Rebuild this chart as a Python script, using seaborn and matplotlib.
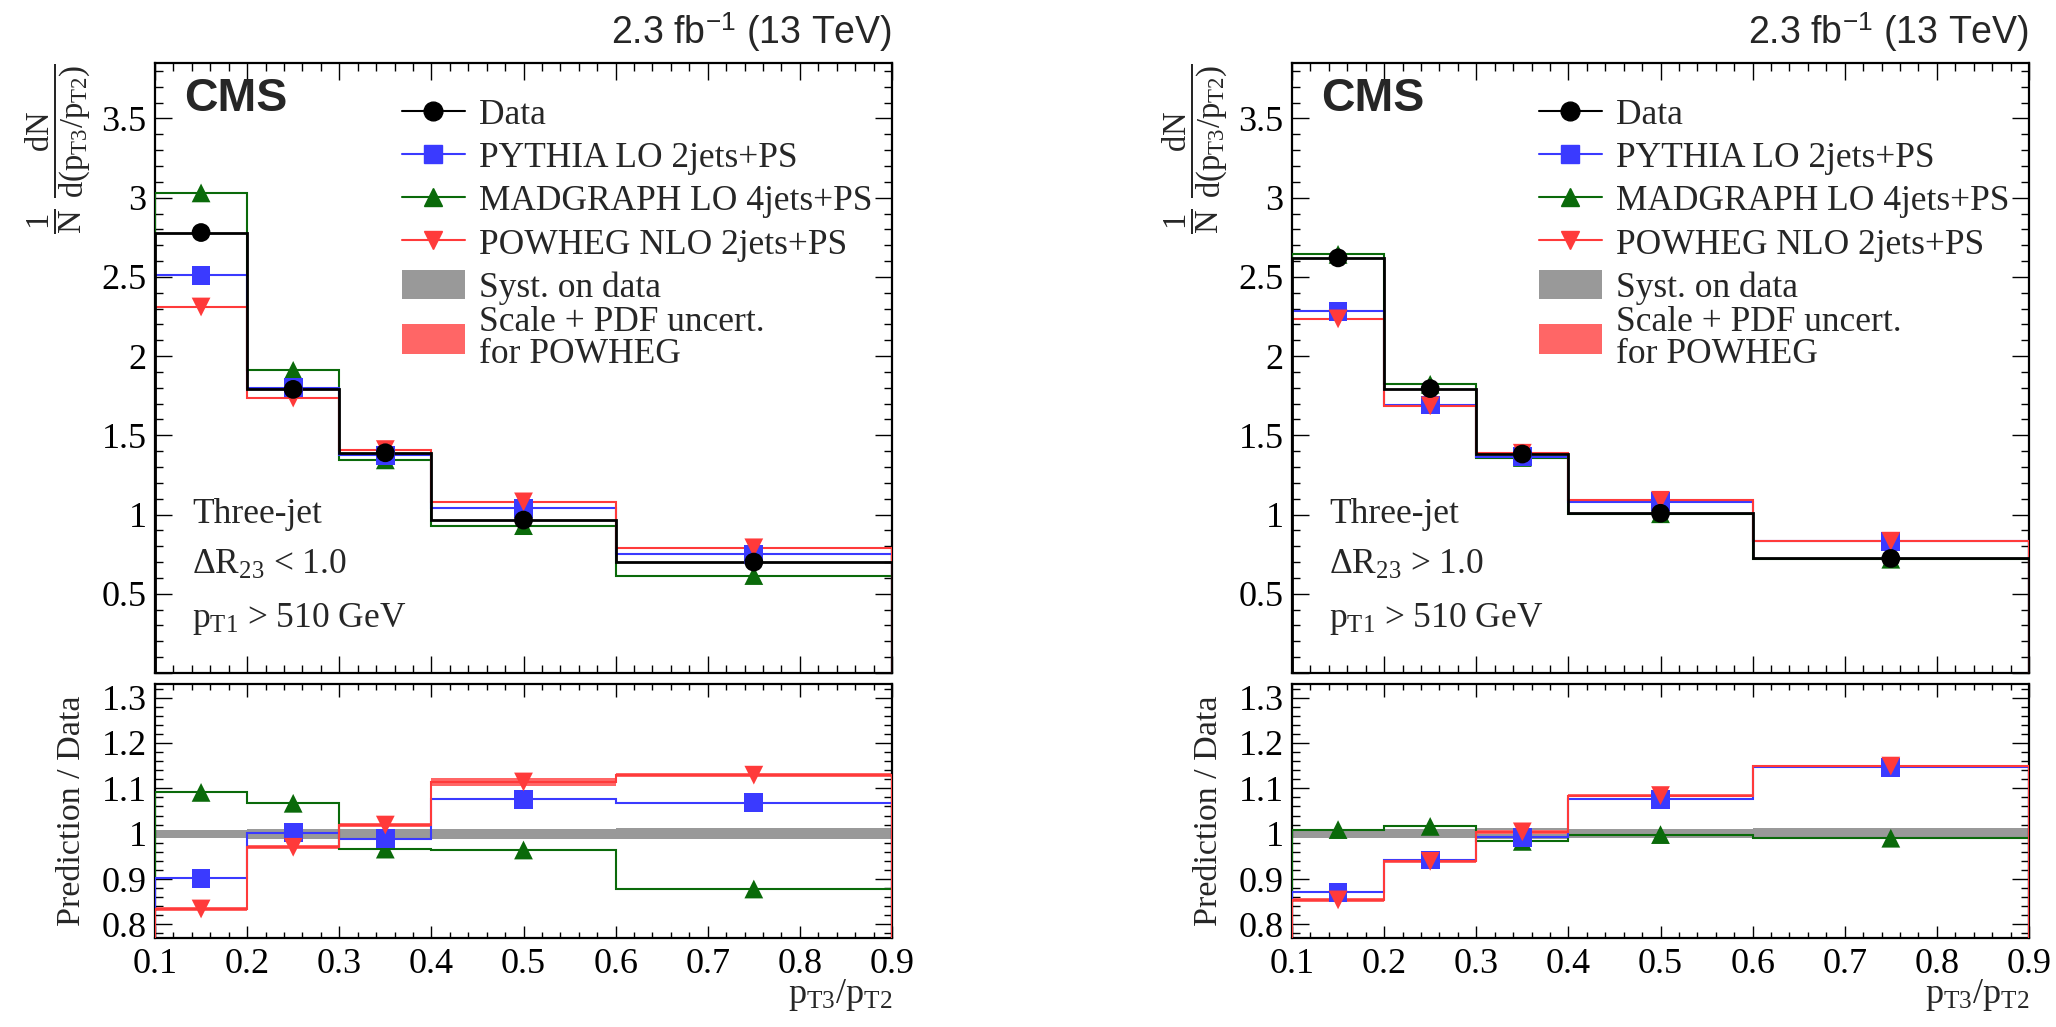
import matplotlib
matplotlib.use("Agg")
import matplotlib.pyplot as plt
import seaborn as sns
from matplotlib.lines import Line2D
from matplotlib.patches import Patch
from matplotlib.ticker import MultipleLocator, FuncFormatter

# ---- binning in p_T3/p_T2 ----
bin_edges = [0.1, 0.2, 0.3, 0.4, 0.6, 0.9]
bin_centers = [0.15, 0.25, 0.35, 0.5, 0.75]

# ---- Delta R23 < 1.0 ----
near_data = [2.78, 1.79, 1.39, 0.965, 0.70]
near_pythia = [2.51, 1.80, 1.375, 1.04, 0.75]
near_madgraph = [3.03, 1.91, 1.345, 0.93, 0.615]
near_powheg = [2.31, 1.735, 1.41, 1.08, 0.79]
near_ratio_pythia = [0.902, 1.002, 0.989, 1.076, 1.068]
near_ratio_madgraph = [1.091, 1.067, 0.966, 0.964, 0.878]
near_ratio_powheg = [0.834, 0.970, 1.019, 1.114, 1.129]
near_powheg_unc = [0.005, 0.004, 0.005, 0.008, 0.004]
near_syst = [0.009, 0.011, 0.010, 0.011, 0.012]

# ---- Delta R23 > 1.0 ----
far_data = [2.62, 1.795, 1.382, 1.008, 0.723]
far_pythia = [2.283, 1.692, 1.365, 1.082, 0.83]
far_madgraph = [2.642, 1.822, 1.36, 1.005, 0.718]
far_powheg = [2.235, 1.686, 1.387, 1.09, 0.832]
far_ratio_pythia = [0.871, 0.942, 0.992, 1.076, 1.146]
far_ratio_madgraph = [1.009, 1.016, 0.983, 0.998, 0.990]
far_ratio_powheg = [0.854, 0.939, 1.004, 1.084, 1.149]
far_powheg_unc = [0.004, 0.003, 0.004, 0.004, 0.003]
far_syst = [0.010, 0.010, 0.012, 0.010, 0.012]

panel_cuts = [r"$\Delta\mathrm{R}_{23}$ < 1.0", r"$\Delta\mathrm{R}_{23}$ > 1.0"]

legend_labels = ["Data", "PYTHIA LO 2jets+PS", "MADGRAPH LO 4jets+PS",
                 "POWHEG NLO 2jets+PS", "Syst. on data"]
band_label = "Scale + PDF uncert.\nfor POWHEG"

C_DATA = "black"
C_PY = "#3a3aff"
C_MG = "#0a6a0a"
C_PW = "#ff3a3a"
C_PW_BAND = "#ff6666"
C_SYST = "#999999"

sns.set_theme(style="ticks")
plt.rcParams["font.family"] = ["Liberation Serif", "DejaVu Serif"]
plt.rcParams["mathtext.fontset"] = "custom"
plt.rcParams["mathtext.rm"] = "Liberation Serif"
plt.rcParams["mathtext.it"] = "Liberation Serif"
plt.rcParams["mathtext.sf"] = "Liberation Sans"
plt.rcParams["axes.linewidth"] = 1.6

fig = plt.figure(figsize=(20.56, 10.27), dpi=100)

W = 737 / 2056
lefts = [155 / 2056, 1292 / 2056]
top_box = (0.34470, 0.59396)
ratio_box = (0.08666, 0.24732)

marker_ms = 13.5
LW = 1.5
TICK_FS = 26
TEXT_FS = 25.5
LEG_FS = 25.5


def fmt_no_zero(v, pos):
    if abs(v) < 1e-9:
        return ""
    return f"{v:g}"


def style_axes(ax, maj, minr):
    ax.tick_params(which="both", direction="in", top=True, right=True,
                   bottom=True, left=True, width=1.0, colors="black",
                   labelsize=TICK_FS)
    ax.tick_params(which="major", length=maj)
    ax.tick_params(which="minor", length=minr)
    for s in ax.spines.values():
        s.set_linewidth(1.6)
        s.set_color("black")
        s.set_visible(True)


def draw_markers(ax, x, y, marker, color, z):
    sns.scatterplot(x=x, y=y, marker=marker, s=marker_ms ** 2, color=color,
                    edgecolor="none", linewidth=0, ax=ax, zorder=z, legend=False)


panels = [
    (near_data, near_pythia, near_madgraph, near_powheg,
     near_ratio_pythia, near_ratio_madgraph, near_ratio_powheg,
     near_powheg_unc, near_syst),
    (far_data, far_pythia, far_madgraph, far_powheg,
     far_ratio_pythia, far_ratio_madgraph, far_ratio_powheg,
     far_powheg_unc, far_syst),
]

for i, (dat, py, mg, pw, rpy, rmg, rpw, pw_unc, syst) in enumerate(panels):
    ax = fig.add_axes([lefts[i], top_box[0], W, top_box[1]])
    axr = fig.add_axes([lefts[i], ratio_box[0], W, ratio_box[1]])

    # ---- distribution ----
    ax.stairs(mg, bin_edges, color=C_MG, lw=LW, zorder=3)
    ax.stairs(py, bin_edges, color=C_PY, lw=LW, zorder=3)
    ax.stairs(pw, bin_edges, color=C_PW, lw=LW, zorder=3)
    ax.stairs(dat, bin_edges, color=C_DATA, lw=2.0, zorder=4)
    draw_markers(ax, bin_centers, mg, "^", C_MG, 5)
    draw_markers(ax, bin_centers, py, "s", C_PY, 5)
    draw_markers(ax, bin_centers, pw, "v", C_PW, 5)
    draw_markers(ax, bin_centers, dat, "o", C_DATA, 6)

    ax.set_xlim(0.1, 0.9)
    ax.set_ylim(0, 3.85)
    ax.xaxis.set_major_locator(MultipleLocator(0.1))
    ax.xaxis.set_minor_locator(MultipleLocator(0.02))
    ax.yaxis.set_major_locator(MultipleLocator(0.5))
    ax.yaxis.set_minor_locator(MultipleLocator(0.1))
    ax.yaxis.set_major_formatter(FuncFormatter(fmt_no_zero))
    ax.tick_params(axis="x", labelbottom=False)
    style_axes(ax, 12, 6)
    ax.tick_params(axis="y", pad=6)
    ax.set_xlabel("")
    ax.set_ylabel("")

    ax.text(-0.132, 1.0,
            r"$\dfrac{1}{\mathrm{N}}\ \dfrac{\mathrm{dN}}{\mathrm{d(p_{T3}/p_{T2})}}$",
            rotation=90, ha="center", va="top", fontsize=23.5,
            transform=ax.transAxes)
    ax.text(0.039, 0.977, "CMS", family="Liberation Sans", fontweight="bold",
            fontsize=33.5, ha="left", va="top", transform=ax.transAxes)
    ax.text(1.0, 1.031, r"2.3 fb$^{\mathsf{-1}}$ (13 TeV)",
            family="Liberation Sans", ha="right", va="baseline", fontsize=27,
            transform=ax.transAxes)

    ax.text(0.05, 0.246, "Three-jet", fontsize=TEXT_FS, ha="left",
            va="baseline", transform=ax.transAxes)
    ax.text(0.05, 0.162, panel_cuts[i], fontsize=TEXT_FS, ha="left",
            va="baseline", transform=ax.transAxes)
    ax.text(0.05, 0.075, r"$\mathrm{p_{T1}}$ > 510 GeV", fontsize=TEXT_FS,
            ha="left", va="baseline", transform=ax.transAxes)

    handles = [
        Line2D([], [], color=C_DATA, lw=LW, marker="o", markersize=marker_ms),
        Line2D([], [], color=C_PY, lw=LW, marker="s", markersize=marker_ms),
        Line2D([], [], color=C_MG, lw=LW, marker="^", markersize=marker_ms),
        Line2D([], [], color=C_PW, lw=LW, marker="v", markersize=marker_ms),
        Patch(facecolor=C_SYST, edgecolor="none"),
    ]
    leg1 = ax.legend(handles=handles, labels=legend_labels, loc="center left",
                     bbox_to_anchor=(0.335, 0.7736), frameon=False,
                     prop={"family": "Liberation Serif", "size": LEG_FS},
                     handlelength=1.78, handleheight=0.85, handletextpad=0.4,
                     labelspacing=0.25, borderpad=0, borderaxespad=0,
                     numpoints=1)
    ax.add_artist(leg1)
    leg2 = ax.legend(handles=[Patch(facecolor=C_PW_BAND, edgecolor="none")],
                     labels=[band_label], loc="center left",
                     bbox_to_anchor=(0.335, 0.548), frameon=False,
                     prop={"family": "Liberation Serif", "size": LEG_FS},
                     handlelength=1.78, handleheight=0.95, handletextpad=0.4,
                     borderpad=0, borderaxespad=0)
    for t in leg2.get_texts():
        t.set_linespacing(0.95)

    # ---- ratio ----
    lo_s = [1 - e for e in syst]
    hi_s = [1 + e for e in syst]
    axr.stairs(hi_s, bin_edges, baseline=lo_s, fill=True, color=C_SYST,
               lw=0, zorder=1)
    lo_p = [r - e for r, e in zip(rpw, pw_unc)]
    hi_p = [r + e for r, e in zip(rpw, pw_unc)]
    axr.stairs(hi_p, bin_edges, baseline=lo_p, fill=True, color=C_PW_BAND,
               lw=0, zorder=2)
    axr.stairs(rmg, bin_edges, color=C_MG, lw=LW, zorder=3)
    axr.stairs(rpy, bin_edges, color=C_PY, lw=LW, zorder=3)
    axr.stairs(rpw, bin_edges, color=C_PW, lw=LW, zorder=3)
    draw_markers(axr, bin_centers, rmg, "^", C_MG, 5)
    draw_markers(axr, bin_centers, rpy, "s", C_PY, 5)
    draw_markers(axr, bin_centers, rpw, "v", C_PW, 5)

    axr.set_xlim(0.1, 0.9)
    axr.set_ylim(0.77, 1.33)
    axr.xaxis.set_major_locator(MultipleLocator(0.1))
    axr.xaxis.set_minor_locator(MultipleLocator(0.02))
    axr.yaxis.set_major_locator(MultipleLocator(0.1))
    axr.yaxis.set_minor_locator(MultipleLocator(0.02))
    axr.xaxis.set_major_formatter(FuncFormatter(lambda v, p: f"{v:.1f}"))
    axr.yaxis.set_major_formatter(FuncFormatter(lambda v, p: f"{v:g}"))
    style_axes(axr, 12, 6)
    axr.tick_params(axis="x", which="major", length=9)
    axr.tick_params(axis="x", which="minor", length=4.5)
    axr.tick_params(axis="x", pad=7)
    axr.tick_params(axis="y", pad=6)
    axr.set_xlabel("")
    axr.set_ylabel("")
    axr.text(-0.113, 0.5, "Prediction / Data", rotation=90, ha="center",
             va="center", fontsize=24.5, transform=axr.transAxes)
    axr.text(1.0, -0.256, r"$\mathrm{p_{T3}/p_{T2}}$", ha="right",
             va="baseline", fontsize=26, transform=axr.transAxes)

fig.savefig("out.png", dpi=100, facecolor="white")
